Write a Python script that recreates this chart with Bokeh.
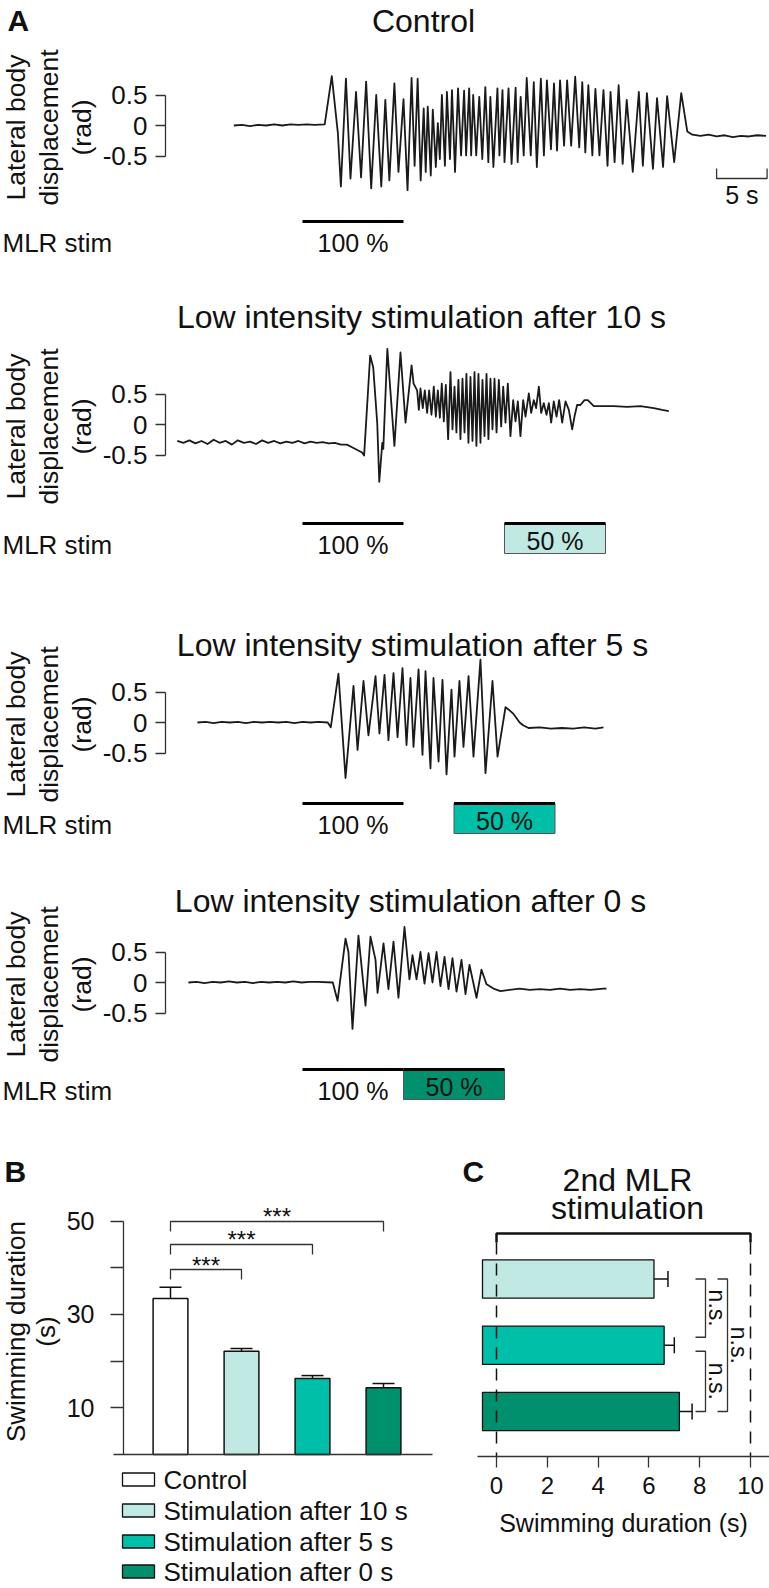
import math
from bokeh.plotting import figure
from bokeh.models import Range1d, LinearAxis, FixedTicker, Whisker, TeeHead, ColumnDataSource
from bokeh.layouts import column, row
from bokeh.embed import file_html
from bokeh.resources import INLINE
from bokeh.core.properties import value

# ---------------- data ----------------
# time in s relative to the onset of the first (100 %) MLR stimulation; displacement in rad
control_t = [-6.8, -6.0, -5.2, -4.4, -3.6, -2.8, -2.0, -1.2, -0.4, 0.4, 1.2, 2.2,
             2.9, 3.5, 3.8, 4.3, 4.75, 5.3, 5.8, 6.3, 6.8, 7.3, 7.8,
             8.2, 8.6, 9.1, 9.5, 10.0, 10.4, 10.8, 11.1, 11.4, 11.7,
             12.0, 12.2, 12.4, 12.7, 12.9, 13.2, 13.4, 13.6, 13.8, 14.1,
             14.3, 14.6, 14.8, 15.1, 15.4, 15.7, 16.0, 16.2, 16.5, 16.7,
             16.9, 17.2, 17.5, 17.8, 18.1, 18.4, 18.6, 18.9, 19.3, 19.5,
             19.8, 20.0, 20.4, 20.7, 21.1, 21.3, 21.6, 21.9, 22.2, 22.6,
             22.9, 23.2, 23.6, 23.9, 24.2, 24.6, 24.9, 25.2, 25.5, 25.9,
             26.2, 26.6, 27.0, 27.4, 27.7, 28.0, 28.3, 28.7, 29.0, 29.4,
             29.8, 30.2, 30.5, 30.9, 31.3, 31.7, 32.1, 32.7, 33.3, 33.7,
             34.1, 34.7, 35.1, 35.7, 36.1, 36.8, 37.5, 38.1, 38.6,
             39.4, 40.2, 41.0, 41.8, 42.6, 43.4, 44.2, 45.0, 45.9]
control_v = [0.0, 0.01, -0.01, 0.01, 0.0, 0.02, 0.0, 0.02, 0.01, 0.02, 0.01, 0.02,
             0.81, -0.12, -1.0, 0.77, -0.87, 0.55, -0.85, 0.72, -1.03, 0.5, -1.0,
             0.42, -0.9, 0.69, -0.76, 0.43, -1.06, 0.78, -0.66, 0.77, -0.9,
             0.28, -0.76, 0.31, -0.82, 0.26, -0.68, 0.04, -0.55, 0.5, -0.66,
             0.55, -0.55, 0.58, -0.76, 0.61, -0.49, 0.57, -0.49, 0.61, -0.49,
             0.5, -0.49, 0.47, -0.55, 0.63, -0.6, 0.47, -0.68, 0.61, -0.49,
             0.58, -0.6, 0.61, -0.63, 0.62, -0.6, 0.47, -0.49, 0.78, -0.49,
             0.71, -0.68, 0.77, -0.49, 0.74, -0.39, 0.69, -0.41, 0.74, -0.33,
             0.74, -0.33, 0.8, -0.36, 0.71, -0.44, 0.66, -0.49, 0.6, -0.49,
             0.58, -0.66, 0.55, -0.6, 0.66, -0.63, 0.42, -0.76, 0.55, -0.66,
             0.53, -0.71, 0.45, -0.68, 0.48, -0.6, 0.53, -0.1, -0.15,
             -0.17, -0.15, -0.18, -0.16, -0.19, -0.17, -0.18, -0.16, -0.17]

after10_t = [-12.4, -11.8, -11.2, -10.6, -10.0, -9.4, -8.8, -8.2, -7.6, -7.0,
             -6.4, -5.8, -5.2, -4.6, -4.0, -3.4, -2.8, -2.2, -1.6, -1.0,
             -0.4, 0.2, 0.8, 1.4, 2.0, 2.6, 3.2, 3.8, 4.4, 5.0, 5.9, 6.1,
             6.7, 7.0, 7.4, 7.6, 7.9, 8.0, 8.4, 9.1, 9.7, 10.2, 10.8, 11.0,
             11.35, 11.52, 11.68, 11.91, 12.11, 12.34, 12.54, 12.77, 13.0, 13.2,
             13.4, 13.6, 13.79, 13.99, 14.19, 14.42, 14.65, 14.85, 15.05, 15.24,
             15.44, 15.64, 15.84, 16.04, 16.23, 16.43, 16.63, 16.83, 17.03, 17.22,
             17.42, 17.62, 17.82, 18.02, 18.22, 18.41, 18.61, 18.81, 19.01, 19.21,
             19.44, 19.67, 19.87, 20.1, 20.33, 20.59, 20.86, 21.09, 21.32, 21.58,
             21.85, 22.08, 22.41, 22.64, 22.9, 23.13, 23.4, 23.63, 23.89, 24.16,
             24.39, 24.62, 24.88, 25.15, 25.41, 25.71, 26.04, 26.37, 26.7, 26.93,
             27.19, 27.52, 27.92, 28.25, 28.84, 29.5, 30.82, 32.14, 33.46, 34.78,
             35.61, 36.27]
after10_v = [-0.27, -0.30, -0.26, -0.31, -0.27, -0.32, -0.25, -0.30, -0.27, -0.33,
             -0.26, -0.30, -0.28, -0.32, -0.26, -0.30, -0.27, -0.31, -0.28, -0.30,
             -0.27, -0.31, -0.28, -0.30, -0.29, -0.31, -0.30, -0.33, -0.33, -0.38, -0.46, -0.51,
             1.13, 0.94, 0.02, -0.94, -0.3, -0.4, 1.24, -0.35, 1.18, 0.03, 0.97, 0.67,
             0.56, 0.24, 0.59, 0.27, 0.56, 0.19, 0.56, 0.16, 0.62, 0.13,
             0.56, 0.11, 0.67, 0.05, 0.65, -0.24, 0.86, -0.08, 0.62, -0.13,
             0.73, -0.24, 0.75, -0.13, 0.83, -0.30, 0.78, -0.27, 0.86, -0.35,
             0.83, -0.30, 0.73, -0.19, 0.83, -0.24, 0.75, -0.08, 0.75, -0.13,
             0.73, -0.03, 0.62, 0.03, 0.67, -0.19, 0.40, 0.05, 0.38, -0.19,
             0.40, 0.13, 0.51, 0.19, 0.40, 0.27, 0.62, 0.19, 0.35, 0.16,
             0.35, 0.03, 0.38, 0.13, 0.40, 0.03, 0.38, 0.24, -0.08, 0.13,
             0.32, 0.32, 0.40, 0.40, 0.30, 0.30, 0.30, 0.29, 0.30, 0.27,
             0.24, 0.22]

after5_t = [-10.4, -9.6, -8.8, -8.0, -7.2, -6.4, -5.6, -4.8, -4.0, -3.2,
            -2.4, -1.6, -0.8, 0.0, 0.8, 1.6, 2.5, 2.8,
            3.56, 4.26, 5.05, 5.45, 6.04, 6.53, 7.23, 7.62, 8.12, 8.51,
            9.01, 9.41, 9.9, 10.3, 10.69, 10.99, 11.49, 11.88, 12.18, 12.67,
            12.97, 13.47, 13.86, 14.26, 14.75, 15.05, 15.54, 15.94, 16.44, 16.93,
            17.62, 18.12, 18.81, 19.31, 20.1, 20.5, 20.89, 21.5, 21.88, 22.38,
            23.5, 24.6, 25.7, 26.8, 27.9, 29.0, 29.8]
after5_v = [0.0, 0.01, -0.01, 0.01, 0.0, 0.01, -0.01, 0.01, 0.0, 0.01,
            0.0, 0.01, -0.01, 0.01, 0.0, 0.01, 0.0, -0.08,
            0.80, -0.91, 0.60, -0.45, 0.68, -0.21, 0.76, -0.18, 0.78, -0.29,
            0.81, -0.24, 0.89, -0.37, 0.73, -0.40, 0.87, -0.53, 0.84, -0.75,
            0.73, -0.64, 0.70, -0.85, 0.54, -0.56, 0.68, -0.40, 0.76, -0.56,
            1.03, -0.83, 0.68, -0.56, 0.25, 0.2, 0.14, 0.0, -0.05, -0.09,
            -0.08, -0.1, -0.09, -0.1, -0.08, -0.1, -0.08]

after0_t = [-11.3, -10.5, -9.7, -8.9, -8.1, -7.3, -6.5, -5.7, -4.9, -4.1,
            -3.3, -2.5, -1.7, -0.9, -0.1, 0.7, 1.5, 3.0,
            3.47, 4.26, 4.55, 4.95, 5.54, 6.24, 6.73, 7.23, 7.43, 8.02,
            8.51, 9.01, 9.5, 10.1, 10.59, 10.89, 11.29, 11.68, 12.08, 12.48,
            12.87, 13.27, 13.66, 14.06, 14.46, 14.85, 15.25, 15.74, 16.14, 16.53,
            17.23, 17.72, 18.22, 18.91, 19.6, 20.5, 21.5, 22.5, 23.5, 24.5,
            25.5, 26.5, 27.5, 28.5, 29.8, 30.1]
after0_v = [0.0, 0.01, -0.01, 0.01, 0.0, 0.02, 0.0, 0.01, -0.01, 0.01,
            0.0, 0.01, 0.0, 0.02, 0.0, 0.01, 0.01, 0.0,
            -0.30, 0.72, 0.5, -0.76, 0.77, -0.38, 0.75, 0.37, -0.17, 0.64,
            -0.11, 0.67, -0.25, 0.91, 0.05, 0.45, 0.05, 0.5, -0.02, 0.48,
            0.0, 0.5, -0.06, 0.42, -0.11, 0.4, -0.15, 0.37, -0.19, 0.29,
            -0.25, 0.21, -0.03, -0.1, -0.14, -0.12, -0.10, -0.12, -0.11, -0.12,
            -0.10, -0.12, -0.11, -0.12, -0.10, -0.10]

disp_ticks = [-0.5, 0, 0.5]
stim1_on = 0.0
stim_len = 10.0
stim2_on = [20.0, 15.0, 10.0]          # after 10 s, 5 s, 0 s
stim_labels = ["100 %", "50 %"]
scale_bar = (41.0, 5.0)                # start, length (s)

groups = ["Control", "Stimulation after 10 s", "Stimulation after 5 s", "Stimulation after 0 s"]
group_colors = ["#ffffff", "#bfe9e2", "#00bfa9", "#00906e"]
dur_mean = [33.4, 22.1, 16.3, 14.3]
dur_sem = [2.4, 0.6, 0.6, 0.9]
dur_ticks = [10, 20, 30, 40, 50]
sig_pairs = [(1, 2), (1, 3), (1, 4)]
sig_labels = ["***", "***", "***"]

second_mean = [6.2, 6.6, 7.2]          # after 10 s, 5 s, 0 s
second_sem = [0.55, 0.4, 0.5]
second_ticks = [0, 2, 4, 6, 8, 10]
ns_pairs = [(3, 2), (2, 1), (3, 1)]

# ---------------- layout helpers ----------------
W = 769
FONT = "Liberation Sans"
INK = "#111111"
AXC = "#333333"


def txt(p, x, y, s, size, align="center", angle=0.0, bold=False):
    p.text(x=[x], y=[y], text=[s], angle=angle, text_align=align, text_baseline="middle",
           text_font=value(FONT), text_font_size=value(f"{size}px"),
           text_font_style="bold" if bold else "normal", text_color=INK)


def base_fig(w, h, xr, yr):
    return figure(width=w, height=h, x_range=Range1d(*xr), y_range=Range1d(*yr),
                  x_axis_type=None, y_axis_type=None, output_backend="svg",
                  toolbar_location=None, min_border=0, outline_line_color=None)


T0X, PXS, PXR = 302.0, 10.1, 61.0


def tx(x):
    return (x - T0X) / PXS


def trace_panel(top, bottom, zero, t, v, title, title_cx, title_cy, bar_y,
                s2=None, color=None, first=False):
    def vy(y):
        return (zero - y) / PXR

    p = base_fig(W, bottom - top, (tx(0), tx(W)), (vy(bottom), vy(top)))
    ax = LinearAxis(fixed_location=tx(165), ticker=FixedTicker(ticks=disp_ticks),
                    bounds=(min(disp_ticks), max(disp_ticks)),
                    major_label_overrides={-0.5: "-0.5", 0: "0", 0.5: "0.5"},
                    major_tick_out=10, major_tick_in=0, minor_tick_out=0, minor_tick_in=0,
                    axis_line_color=AXC, axis_line_width=1.3,
                    major_tick_line_color=AXC, major_tick_line_width=1.3,
                    major_label_text_font=FONT, major_label_text_font_size="26px",
                    major_label_text_color=INK, major_label_standoff=8)
    p.add_layout(ax, "left")
    for xc, s in zip([15, 48, 81], ["Lateral body", "displacement", "(rad)"]):
        txt(p, tx(xc), vy(zero + 2), s, 26.5, angle=math.pi / 2)
    p.line(t, v, line_color="#1a1a1a", line_width=1.8, line_join="round")
    txt(p, tx(title_cx), vy(title_cy), title, 32)
    on = [stim1_on] + ([s2] if s2 is not None else [])
    if s2 is not None:
        p.quad(left=[s2], right=[s2 + stim_len], top=[vy(bar_y)], bottom=[vy(bar_y + 30)],
               fill_color=color, line_color="#555555", line_width=1)
        txt(p, s2 + stim_len / 2, vy(bar_y + 17), stim_labels[1], 25)
    p.segment(x0=on, x1=[o + stim_len for o in on], y0=[vy(bar_y)] * len(on), y1=[vy(bar_y)] * len(on),
              line_color="#000000", line_width=3)
    txt(p, stim1_on + stim_len / 2, vy(bar_y + 21), stim_labels[0], 25)
    txt(p, tx(2), vy(bar_y + 21), "MLR stim", 26, align="left")
    if first:
        txt(p, tx(7), vy(20), "A", 30, align="left", bold=True)
        s0, sl = scale_bar
        p.multi_line(xs=[[s0, s0, s0 + sl, s0 + sl]], ys=[[vy(168), vy(178), vy(178), vy(168)]],
                     line_color=AXC, line_width=1.3)
        txt(p, s0 + sl / 2, vy(194), f"{sl:g} s", 25)
    return p


p1 = trace_panel(0, 262, 125, control_t, control_v, "Control", 423, 20, 221, first=True)
p2 = trace_panel(262, 570, 424, after10_t, after10_v, "Low intensity stimulation after 10 s", 421, 316, 523,
                 s2=stim2_on[0], color=group_colors[1])
p3 = trace_panel(570, 860, 722, after5_t, after5_v, "Low intensity stimulation after 5 s", 412, 644, 803,
                 s2=stim2_on[1], color=group_colors[2])
p4 = trace_panel(860, 1125, 982, after0_t, after0_v, "Low intensity stimulation after 0 s", 410, 900, 1069,
                 s2=stim2_on[2], color=group_colors[3])

TOPB, BOTB = 1125, 1588
HB = BOTB - TOPB

# ---------------- panel B ----------------
WB = 455


def bx(x):
    return (x - 170.0) / 71.0 + 1


def by(y):
    return (1454.0 - y) / 4.67


pb = base_fig(WB, HB, (bx(0), bx(WB)), (by(BOTB), by(TOPB)))
xs_b = list(range(1, len(groups) + 1))
pb.vbar(x=xs_b, top=dur_mean, bottom=0, width=0.49, fill_color=group_colors,
        line_color=INK, line_width=1.5)
srcb = ColumnDataSource(dict(x=xs_b, lo=dur_mean, hi=[m + s for m, s in zip(dur_mean, dur_sem)]))
pb.add_layout(Whisker(source=srcb, base="x", lower="lo", upper="hi", dimension="height",
                      line_color=INK, line_width=1.5, lower_head=None,
                      upper_head=TeeHead(size=22, line_color=INK, line_width=1.5)))
ayb = LinearAxis(fixed_location=bx(123), ticker=FixedTicker(ticks=dur_ticks), bounds=(0, max(dur_ticks)),
                 major_label_overrides={20: "", 40: ""},
                 major_tick_out=13, major_tick_in=0, minor_tick_out=0, minor_tick_in=0,
                 axis_line_color=AXC, axis_line_width=1.3, major_tick_line_color=AXC, major_tick_line_width=1.3,
                 major_label_text_font=FONT, major_label_text_font_size="25px",
                 major_label_text_color=INK, major_label_standoff=16)
pb.add_layout(ayb, "left")
axb = LinearAxis(fixed_location=0, ticker=FixedTicker(ticks=[]), bounds=(bx(113), bx(432)),
                 axis_line_color=AXC, axis_line_width=1.5, major_tick_out=0, major_tick_in=0,
                 major_label_text_font_size="0px")
pb.add_layout(axb, "below")
for xc, s in zip([15, 45], ["Swimming duration", "(s)"]):
    txt(pb, bx(xc), by(1331), s, 26, angle=math.pi / 2)
sig_y = [1269, 1244, 1221]
star_y = [1259, 1233, 1210]
for (a, b), yb, ys, lab in zip(sig_pairs, sig_y, star_y, sig_labels):
    pb.multi_line(xs=[[a, a, b, b]], ys=[[by(yb + 10), by(yb), by(yb), by(yb + 10)]],
                  line_color=AXC, line_width=1.3)
    txt(pb, (a + b) / 2, by(ys + 6), lab, 24)
txt(pb, bx(4), by(1171), "B", 30, align="left", bold=True)
leg_y = [1479, 1510, 1541, 1571]
pb.rect(x=[bx(138)] * 4, y=[by(yy) for yy in leg_y], width=32, height=13,
        width_units="screen", height_units="screen", fill_color=group_colors,
        line_color=INK, line_width=1.3)
for yy, g in zip(leg_y, groups):
    txt(pb, bx(163), by(yy), g, 26, align="left")

# ---------------- panel C ----------------
WC = W - WB


def cx(x):
    return (x - 496.0) / 25.4


def cy(y):
    return 1 + (1411.0 - y) / 66.25


pc = base_fig(WC, HB, (cx(WB), cx(W)), (cy(BOTB), cy(TOPB)))
ys_c = [3, 2, 1]
pc.hbar(y=ys_c, left=cx(482), right=second_mean, height=0.58, fill_color=group_colors[1:],
        line_color=INK, line_width=1.3)
srcc = ColumnDataSource(dict(y=ys_c, lo=second_mean, hi=[m + s for m, s in zip(second_mean, second_sem)]))
pc.add_layout(Whisker(source=srcc, base="y", lower="lo", upper="hi", dimension="width",
                      line_color=INK, line_width=1.5, lower_head=None,
                      upper_head=TeeHead(size=16, line_color=INK, line_width=1.5)))
pc.segment(x0=[0, stim_len], x1=[0, stim_len], y0=[cy(1242)] * 2, y1=[cy(1456)] * 2,
           line_color=INK, line_width=1.5, line_dash="12 9")
pc.multi_line(xs=[[0, 0, stim_len, stim_len]], ys=[[cy(1242), cy(1233), cy(1233), cy(1242)]],
              line_color=INK, line_width=2.5)
axc = LinearAxis(fixed_location=cy(1456), ticker=FixedTicker(ticks=second_ticks), bounds=(cx(477), cx(W)),
                 major_tick_out=11, major_tick_in=0, minor_tick_out=0, minor_tick_in=0,
                 axis_line_color=AXC, axis_line_width=1.5, major_tick_line_color=AXC, major_tick_line_width=1.3,
                 major_label_text_font=FONT, major_label_text_font_size="24px",
                 major_label_text_color=INK, major_label_standoff=9,
                 axis_label="Swimming duration (s)", axis_label_text_font=FONT,
                 axis_label_text_font_size="25px", axis_label_text_font_style="normal",
                 axis_label_text_color=INK, axis_label_standoff=12)
pc.add_layout(axc, "below")
ns_x = [705, 705, 727]
ns_off = [(0, -8), (6, 0), (0, 0)]
for (a, b), xl, (oa, ob) in zip(ns_pairs, ns_x, ns_off):
    ya, yb = cy(1411 - (a - 1) * 66.25 + oa), cy(1411 - (b - 1) * 66.25 + ob)
    pc.multi_line(xs=[[cx(xl - 10), cx(xl), cx(xl), cx(xl - 10)]], ys=[[ya, ya, yb, yb]],
                  line_color=AXC, line_width=1.3)
    txt(pc, cx(xl + 11), (ya + yb) / 2, "n.s.", 23, angle=-math.pi / 2)
txt(pc, cx(627), cy(1179), "2nd MLR", 32)
txt(pc, cx(627), cy(1207), "stimulation", 32)
txt(pc, cx(462), cy(1171), "C", 30, align="left", bold=True)

layout = column(p1, p2, p3, p4, row(pb, pc))
open("out.html", "w").write(file_html(layout, INLINE))
